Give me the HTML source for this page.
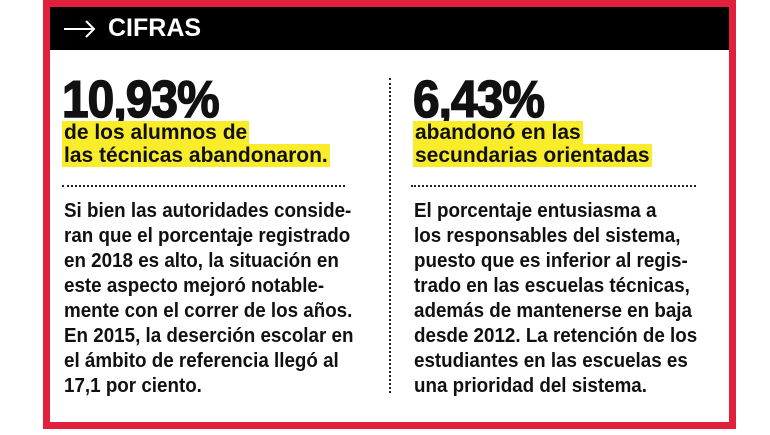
<!DOCTYPE html>
<html><head><meta charset="utf-8"><style>
*{margin:0;padding:0;box-sizing:border-box}
body{width:770px;height:435px;background:#fff;position:relative;overflow:hidden;font-family:"Liberation Sans",sans-serif;color:#111}
.frame{position:absolute;left:43px;top:0;width:693px;height:429px;border:7px solid #e0203c;background:#fff}
.hdr{position:absolute;left:50px;top:7px;width:679px;height:43px;background:#000}
.hdr span{position:absolute;left:58px;top:7px;color:#fff;font-weight:bold;font-size:25px}
.hdr svg{position:absolute;left:12px;top:12px}
.big{position:absolute;top:70px;font-weight:900;font-size:52px;letter-spacing:-1px;transform:scaleX(0.92);transform-origin:left;-webkit-text-stroke:1.5px #111}
.sub{position:absolute;font-weight:bold;font-size:21px;line-height:23px}
.sub span{background:#f9ec2a;padding:0 2px;display:inline-block}
.dots{position:absolute;top:185px;height:0;border-top:2px dotted #222}
.vd{position:absolute;left:389px;top:78px;height:315px;border-left:2px dotted #222}
.body{position:absolute;top:199px;font-size:20px;line-height:25px;white-space:nowrap;font-weight:bold;transform:scaleX(0.94);transform-origin:left}
</style></head><body>
<div class="frame"></div>
<div class="hdr"><svg width="36" height="20"><path d="M2 10H32M24 2L32 10L24 18" stroke="#fff" stroke-width="2" fill="none"/></svg><span>CIFRAS</span></div>
<div class="big" style="left:62px">10,93%</div>
<div class="sub" style="left:62px;top:121px"><span>de los alumnos de</span><br><span>las técnicas abandonaron.</span></div>
<div class="dots" style="left:62px;width:283px"></div>
<div class="vd"></div>
<div class="body" style="left:64px">Si bien las autoridades conside-<br>ran que el porcentaje registrado<br>en 2018 es alto, la situación en<br>este aspecto mejoró notable-<br>mente con el correr de los años.<br>En 2015, la deserción escolar en<br>el ámbito de referencia llegó al<br>17,1 por ciento.</div>
<div class="big" style="left:413px">6,43%</div>
<div class="sub" style="left:413px;top:121px"><span>abandonó en las</span><br><span>secundarias orientadas</span></div>
<div class="dots" style="left:411px;width:285px"></div>
<div class="body" style="left:414px">El porcentaje entusiasma a<br>los responsables del sistema,<br>puesto que es inferior al regis-<br>trado en las escuelas técnicas,<br>además de mantenerse en baja<br>desde 2012. La retención de los<br>estudiantes en las escuelas es<br>una prioridad del sistema.</div>
</body></html>
